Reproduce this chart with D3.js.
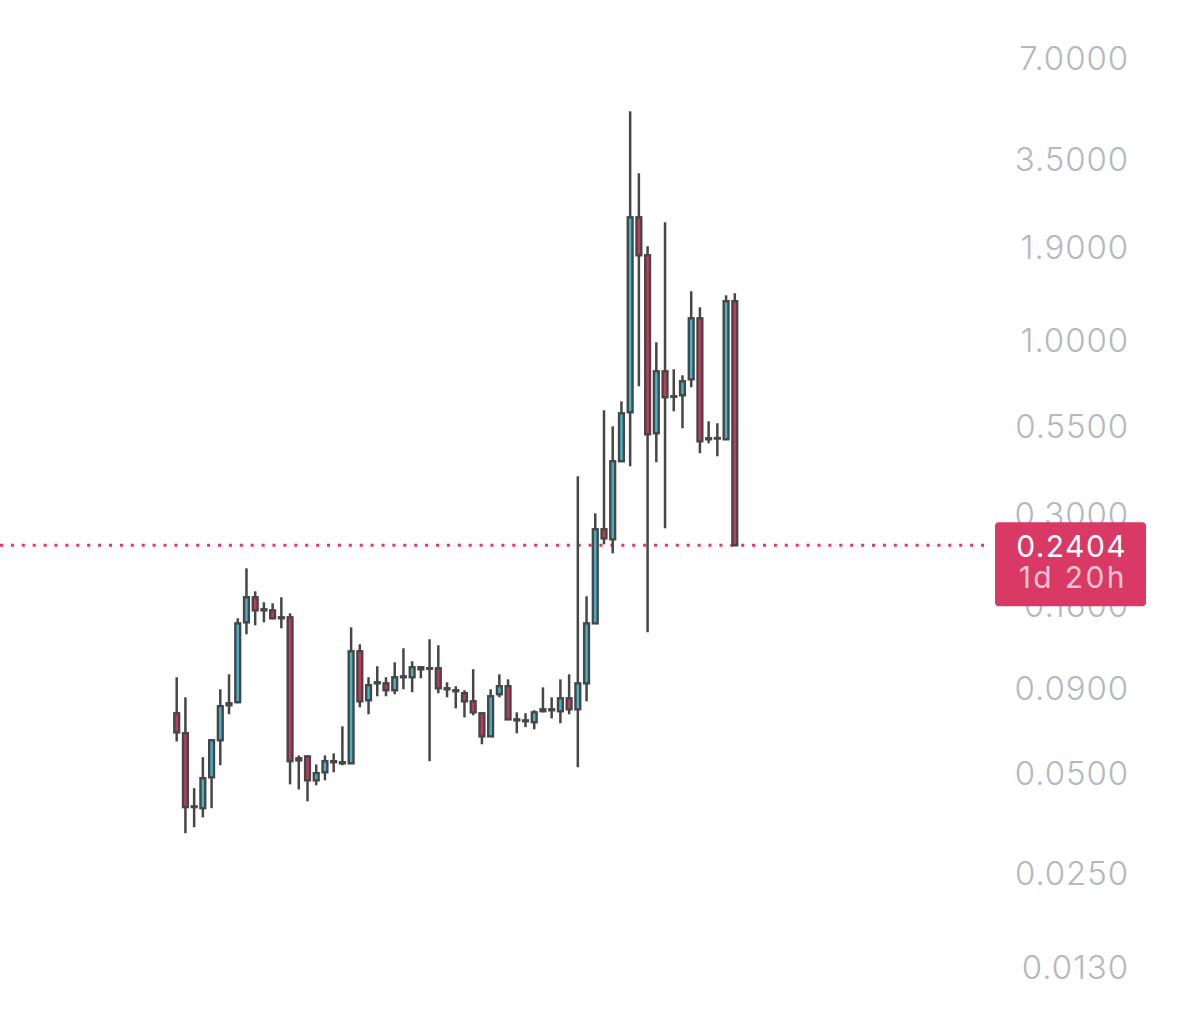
<!DOCTYPE html>
<html>
<head>
<meta charset="utf-8">
<script src="https://cdn.jsdelivr.net/npm/d3@7"></script>
<style>
  html, body { margin: 0; padding: 0; background: #fff; }
  svg { display: block; }
</style>
</head>
<body>
<svg id="chart" width="1200" height="1026"></svg>
<script>
// daily candles, oldest first
var opens = [0.0752, 0.0655, 0.0395, 0.0390, 0.0483, 0.0624, 0.0795, 0.0812, 0.1411, 0.1678,
  0.1544, 0.1533, 0.1461, 0.1461, 0.0543, 0.0558, 0.0473, 0.0500, 0.0540, 0.0536,
  0.0532, 0.1155, 0.0823, 0.0925, 0.0925, 0.0882, 0.0965, 0.0965, 0.1034, 0.1027,
  0.1027, 0.0894, 0.0882, 0.0864, 0.0817, 0.0752, 0.0641, 0.0858, 0.0907, 0.0721,
  0.0716, 0.0707, 0.0763, 0.0773, 0.0763, 0.0834, 0.0773, 0.0925, 0.1401, 0.2686,
  0.2506, 0.4300, 0.6034, 2.325, 1.788, 0.5219, 0.8013, 0.6741, 0.6788, 0.7581,
  1.156, 0.5006, 0.5041, 0.5006, 1.301];
var highs = [0.0965, 0.0840, 0.0448, 0.0555, 0.0626, 0.0888, 0.0985, 0.1451, 0.2050, 0.1749,
  0.1621, 0.1609, 0.1678, 0.1502, 0.0562, 0.0562, 0.0528, 0.0562, 0.0570, 0.0687,
  0.1363, 0.1212, 0.0965, 0.1041, 0.0965, 0.1070, 0.1179, 0.1078, 0.1041, 0.1255,
  0.1204, 0.0932, 0.0907, 0.0882, 0.1020, 0.0757, 0.0888, 0.0985, 0.0951, 0.0757,
  0.0752, 0.0768, 0.0900, 0.0840, 0.0951, 0.0985, 0.3877, 0.1690, 0.3000, 0.6118,
  0.5477, 0.6512, 4.843, 3.153, 1.903, 0.9795, 2.247, 0.8126, 0.7795, 1.394,
  1.248, 0.5670, 0.5593, 1.356, 1.375];
var lows = [0.0619, 0.0328, 0.0342, 0.0366, 0.0390, 0.0525, 0.0747, 0.0806, 0.1299, 0.1382,
  0.1411, 0.1441, 0.1354, 0.0460, 0.0444, 0.0409, 0.0457, 0.0473, 0.0500, 0.0525,
  0.0530, 0.0784, 0.0747, 0.0846, 0.0846, 0.0858, 0.0888, 0.0870, 0.0958, 0.0540,
  0.0864, 0.0840, 0.0778, 0.0731, 0.0742, 0.0607, 0.0640, 0.0840, 0.0720, 0.0655,
  0.0683, 0.0673, 0.0757, 0.0726, 0.0702, 0.0747, 0.0518, 0.0817, 0.1395, 0.2421,
  0.2275, 0.4290, 0.4154, 0.7226, 0.1317, 0.4270, 0.2704, 0.6076, 0.5402, 0.7176,
  0.4545, 0.4869, 0.4451, 0.5000, 0.2404];
var closes = [0.0659, 0.0393, 0.0393, 0.0480, 0.0624, 0.0790, 0.0806, 0.1401, 0.1678, 0.1533,
  0.1533, 0.1451, 0.1451, 0.0540, 0.0551, 0.0473, 0.0497, 0.0540, 0.0536, 0.0532,
  0.1155, 0.0817, 0.0913, 0.0932, 0.0882, 0.0965, 0.0971, 0.1034, 0.1020, 0.1025,
  0.0894, 0.0888, 0.0876, 0.0817, 0.0757, 0.0641, 0.0846, 0.0907, 0.0721, 0.0716,
  0.0712, 0.0757, 0.0773, 0.0768, 0.0834, 0.0773, 0.0925, 0.1401, 0.2686, 0.2523,
  0.4300, 0.5992, 2.325, 1.788, 0.5183, 0.8013, 0.6694, 0.6720, 0.7477, 1.156,
  0.4937, 0.5041, 0.5050, 1.301, 0.2404];

var tickValues = [7, 3.5, 1.9, 1.0, 0.55, 0.30, 0.16, 0.09, 0.05, 0.025, 0.013];
var lastPrice = 0.2404;
var countdown = "1d 20h";

var upColor = "#42b4cc";
var downColor = "#c9365f";
var edgeColor = "#464646";

var svg = d3.select("#chart");

var x = d3.scaleLinear()
  .domain([0, closes.length - 1])
  .range([176.7, 734.8]);

var y = d3.scaleLog()
  .domain([0.013, 7])
  .range([967, 58]);

// price axis on the right
var axis = d3.axisLeft(y)
  .tickValues(tickValues)
  .tickFormat(d3.format(".4f"))
  .tickSize(0)
  .tickPadding(0);

var axisG = svg.append("g")
  .attr("transform", "translate(1129,0)")
  .call(axis);
axisG.select(".domain").remove();
axisG.selectAll("text")
  .attr("fill", "#b5b8be")
  .attr("font-family", "Inter, Roboto, sans-serif")
  .attr("font-weight", 300)
  .attr("font-size", 33)
  .attr("letter-spacing", 0.9)
  .attr("dy", "0.36em");

// current price line
svg.append("line")
  .attr("x1", 0)
  .attr("x2", 990)
  .attr("y1", y(lastPrice))
  .attr("y2", y(lastPrice))
  .attr("stroke", "#e8336b")
  .attr("stroke-width", 3)
  .attr("stroke-dasharray", "3 7.9");

var candles = svg.append("g").selectAll("g")
  .data(closes.map(function (c, i) {
    return { i: i, o: opens[i], h: highs[i], l: lows[i], c: c };
  }))
  .enter()
  .append("g");

candles.append("line")
  .attr("x1", function (d) { return x(d.i); })
  .attr("x2", function (d) { return x(d.i); })
  .attr("y1", function (d) { return y(d.h); })
  .attr("y2", function (d) { return y(d.l); })
  .attr("stroke", edgeColor)
  .attr("stroke-width", 2.5);

candles.append("rect")
  .attr("x", function (d) { return x(d.i) - 2.4; })
  .attr("width", 4.8)
  .attr("y", function (d) { return y(Math.max(d.o, d.c)); })
  .attr("height", function (d) {
    return Math.max(0.5, y(Math.min(d.o, d.c)) - y(Math.max(d.o, d.c)));
  })
  .attr("fill", function (d) { return d.c >= d.o ? upColor : downColor; })
  .attr("stroke", edgeColor)
  .attr("stroke-width", 2.4);

// last price tag
var tagY = y(lastPrice);
svg.append("rect")
  .attr("x", 995)
  .attr("y", tagY - 23)
  .attr("width", 151)
  .attr("height", 84)
  .attr("rx", 4)
  .attr("fill", "#d83a65");

svg.append("text")
  .attr("x", 1127)
  .attr("y", tagY + 12)
  .attr("text-anchor", "end")
  .attr("fill", "#ffffff")
  .attr("font-family", "Inter, Roboto, sans-serif")
  .attr("font-size", 30)
  .attr("letter-spacing", 1.4)
  .text(d3.format(".4f")(lastPrice));

svg.append("text")
  .attr("x", 1127)
  .attr("y", tagY + 43)
  .attr("text-anchor", "end")
  .attr("fill", "#f7c3d1")
  .attr("font-family", "Inter, Roboto, sans-serif")
  .attr("font-size", 30)
  .attr("letter-spacing", 2.4)
  .text(countdown);
</script>
</body>
</html>
